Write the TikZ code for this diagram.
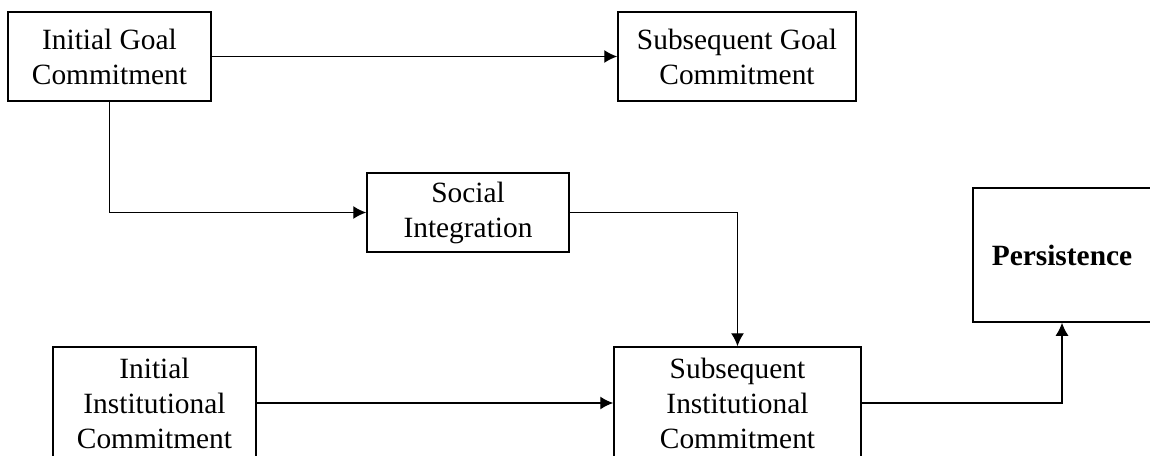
\documentclass[tikz,border=0pt]{standalone}
\usepackage{fontspec}
\setmainfont{Liberation Serif}
\usetikzlibrary{arrows.meta}
\tikzset{
  box/.style={rectangle, draw, line width=0.75pt, align=center, inner sep=0pt,
    font=\fontsize{14.7}{17.5}\selectfont},
  link/.style={line width=0.7pt, -{Latex[length=6.5pt,width=6.5pt]}}
}
\begin{document}
\begin{tikzpicture}[x=0.5pt, y=-0.5pt]
    \useasboundingbox (0,0) rectangle (1150,455);
    \node(igc)[box, minimum width=101.5pt, minimum height=44.5pt] at (109.5,56.5) {Initial Goal\\Commitment};
    \node(sgc)[box, minimum width=119pt, minimum height=44.5pt] at (737,56.5) {Subsequent Goal\\Commitment};
    \node(si)[box, minimum width=101pt, minimum height=39.5pt] at (468,212.5) {Social\\Integration};
    \node(pers)[box, minimum width=89pt, minimum height=67pt] at (1062,255) {\textbf{Persistence}};
    \node(iic)[box, minimum width=101.5pt, minimum height=56pt] at (154.5,403) {Initial\\Institutional\\Commitment};
    \node(sic)[box, minimum width=123.5pt, minimum height=56pt] at (737.5,403) {Subsequent\\Institutional\\Commitment};

    \draw[link] (igc) -- (sgc);
    \draw[link] (igc.south) |- (si.west);
    \draw[link] (si.east) -| (sic.north);
    \draw[link] (iic) -- (sic);
    \draw[link] (sic.east) -| (pers.south);

  \end{tikzpicture}
\end{document}
